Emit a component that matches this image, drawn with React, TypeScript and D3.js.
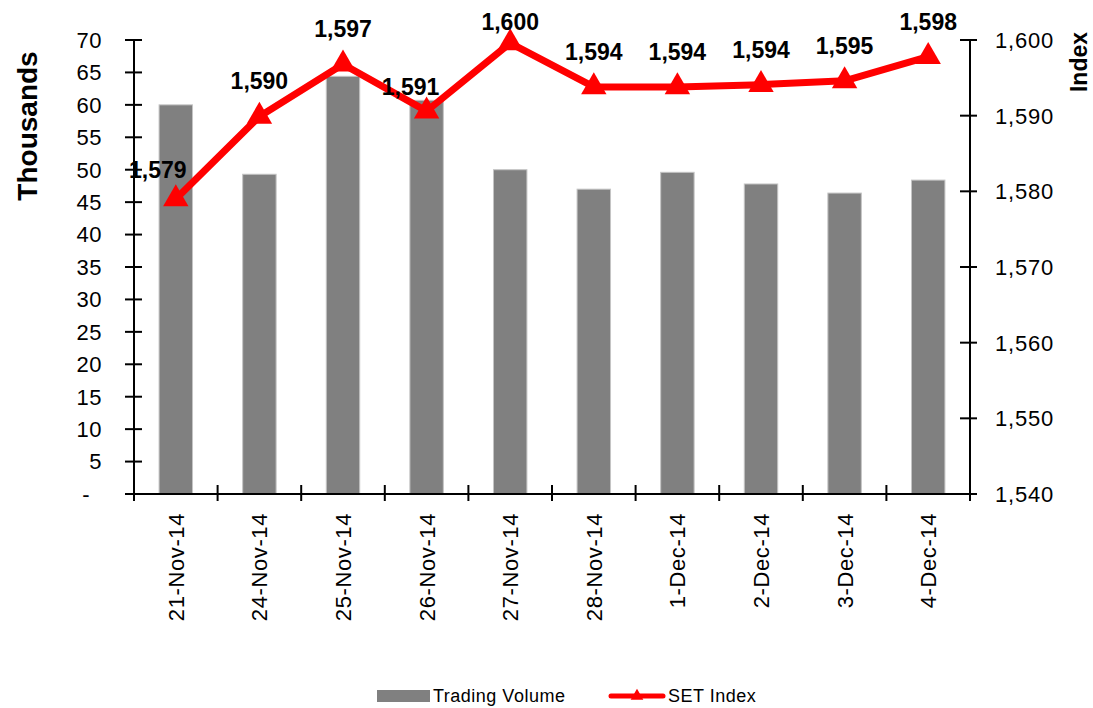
import { useEffect, useRef } from 'react';
import * as d3 from 'd3';

const categories = [
  '21-Nov-14', '24-Nov-14', '25-Nov-14', '26-Nov-14', '27-Nov-14',
  '28-Nov-14', '1-Dec-14', '2-Dec-14', '3-Dec-14', '4-Dec-14',
];
// trading volume, thousands
const volume = [60.0, 49.3, 64.4, 60.7, 50.0, 47.0, 49.6, 47.8, 46.4, 48.4];
// SET index close
const setIndex = [1579.0, 1589.9, 1596.8, 1590.6, 1599.6, 1593.8, 1593.8, 1594.1, 1594.6, 1597.8];

const leftTicks = [0, 5, 10, 15, 20, 25, 30, 35, 40, 45, 50, 55, 60, 65, 70];
const rightTicks = [1540, 1550, 1560, 1570, 1580, 1590, 1600];

const W = 1093;
const H = 708;
const PLOT = { left: 134, right: 970, top: 40, bottom: 494 };
const FONT = '"Liberation Sans", Arial, sans-serif';

// a couple of labels were nudged by hand in the original
const LABEL_NUDGE: Record<number, [number, number]> = {
  0: [-18, 6],
  3: [-16, 11],
};

export default function App() {
  const svgRef = useRef<SVGSVGElement>(null);

  useEffect(() => {
    document.body.style.margin = '0';
    if (!svgRef.current) return;
    const svg = d3.select(svgRef.current);
    svg.selectAll('*').remove();
    svg.style('font-family', FONT);

    const x = d3.scaleBand<string>().domain(categories).range([PLOT.left, PLOT.right]).padding(0);
    const yL = d3.scaleLinear().domain([0, 70]).range([PLOT.bottom, PLOT.top]);
    const yR = d3.scaleLinear().domain([1540, 1600]).range([PLOT.bottom, PLOT.top]);
    const barW = x.bandwidth() * 0.4;
    const cx = (c: string) => (x(c) ?? 0) + x.bandwidth() / 2;

    // bars
    svg.append('g')
      .selectAll('rect')
      .data(volume)
      .enter()
      .append('rect')
      .attr('x', (_, i) => cx(categories[i]) - barW / 2)
      .attr('y', (d) => yL(d))
      .attr('width', barW)
      .attr('height', (d) => yL(0) - yL(d))
      .attr('fill', '#808080')
      .attr('stroke', '#c4c4c4')
      .attr('stroke-width', 1);

    // left axis
    const gl = svg.append('g').attr('transform', `translate(${PLOT.left},0)`);
    gl.append('line').attr('y1', PLOT.top).attr('y2', PLOT.bottom).attr('stroke', '#000').attr('stroke-width', 2);
    leftTicks.forEach((t) => {
      gl.append('line').attr('x1', -9).attr('x2', 8).attr('y1', yL(t)).attr('y2', yL(t))
        .attr('stroke', '#000').attr('stroke-width', 2);
      gl.append('text')
        .attr('x', t === 0 ? -44 : -32)
        .attr('y', yL(t))
        .attr('dy', '0.36em')
        .attr('text-anchor', 'end')
        .style('font-size', '22px')
        .style('letter-spacing', '0.5px')
        .text(t === 0 ? '-' : String(t));
    });

    // right axis
    const gr = svg.append('g').attr('transform', `translate(${PLOT.right},0)`);
    gr.append('line').attr('y1', PLOT.top).attr('y2', PLOT.bottom).attr('stroke', '#000').attr('stroke-width', 2);
    rightTicks.forEach((t) => {
      gr.append('line').attr('x1', -10).attr('x2', 7).attr('y1', yR(t)).attr('y2', yR(t))
        .attr('stroke', '#000').attr('stroke-width', 2);
      gr.append('text')
        .attr('x', 25)
        .attr('y', yR(t))
        .attr('dy', '0.36em')
        .style('font-size', '22px')
        .style('letter-spacing', '0.8px')
        .text(d3.format(',')(t));
    });

    // bottom axis
    const gb = svg.append('g');
    gb.append('line').attr('x1', PLOT.left).attr('x2', PLOT.right).attr('y1', PLOT.bottom).attr('y2', PLOT.bottom)
      .attr('stroke', '#000').attr('stroke-width', 2);
    [...categories.map((c) => x(c) ?? 0), PLOT.right].forEach((bx) => {
      gb.append('line').attr('x1', bx).attr('x2', bx).attr('y1', PLOT.bottom - 9).attr('y2', PLOT.bottom + 7)
        .attr('stroke', '#000').attr('stroke-width', 2);
    });
    categories.forEach((c) => {
      gb.append('text')
        .attr('transform', `translate(${cx(c)},${PLOT.bottom + 19}) rotate(-90)`)
        .attr('text-anchor', 'end')
        .attr('dy', '0.36em')
        .style('font-size', '22px')
        .style('letter-spacing', '0.6px')
        .text(c);
    });

    // axis titles
    svg.append('text')
      .attr('transform', `translate(37,126) rotate(-90)`)
      .attr('text-anchor', 'middle')
      .style('font-size', '28px')
      .style('font-weight', 'bold')
      .text('Thousands');
    svg.append('text')
      .attr('transform', `translate(1087,62) rotate(-90)`)
      .attr('text-anchor', 'middle')
      .style('font-size', '23px')
      .style('font-weight', 'bold')
      .text('Index');

    // SET index line
    const line = d3.line<number>()
      .x((_, i) => cx(categories[i]))
      .y((d) => yR(d));
    svg.append('path')
      .datum(setIndex)
      .attr('d', line)
      .attr('fill', 'none')
      .attr('stroke', '#ff0000')
      .attr('stroke-width', 7)
      .attr('stroke-linejoin', 'round');

    const tri = d3.symbol().type(d3.symbolTriangle).size(280);
    svg.append('g')
      .selectAll('path')
      .data(setIndex)
      .enter()
      .append('path')
      .attr('d', tri)
      .attr('transform', (d, i) => `translate(${cx(categories[i])},${yR(d)})`)
      .attr('fill', '#ff0000');

    svg.append('g')
      .selectAll('text')
      .data(setIndex)
      .enter()
      .append('text')
      .attr('x', (_, i) => cx(categories[i]) + (LABEL_NUDGE[i]?.[0] ?? 0))
      .attr('y', (d, i) => Math.max(yR(d) - 27, 30) + (LABEL_NUDGE[i]?.[1] ?? 0))
      .attr('text-anchor', 'middle')
      .style('font-size', '23px')
      .style('font-weight', 'bold')
      .text((d) => d3.format(',')(Math.round(d)));

    // legend
    const lg = svg.append('g').attr('transform', 'translate(0,696)');
    lg.append('rect').attr('x', 377).attr('y', -6).attr('width', 53).attr('height', 12).attr('fill', '#808080');
    lg.append('text').attr('x', 433).attr('dy', '0.36em').style('font-size', '18px').style('letter-spacing', '0.5px')
      .text('Trading Volume');
    lg.append('line').attr('x1', 611).attr('x2', 663).attr('y1', 0).attr('y2', 0)
      .attr('stroke', '#ff0000').attr('stroke-width', 5).attr('stroke-linecap', 'round');
    lg.append('path').attr('d', d3.symbol().type(d3.symbolTriangle).size(70)).attr('transform', 'translate(637,0)')
      .attr('fill', '#ff0000');
    lg.append('text').attr('x', 668).attr('dy', '0.36em').style('font-size', '18px').style('letter-spacing', '0.5px')
      .text('SET Index');
  }, []);

  return (
    <div style={{ position: 'absolute', left: 0, top: 0 }}>
      <svg ref={svgRef} width={W} height={H} style={{ display: 'block', background: '#fff' }} />
    </div>
  );
}
